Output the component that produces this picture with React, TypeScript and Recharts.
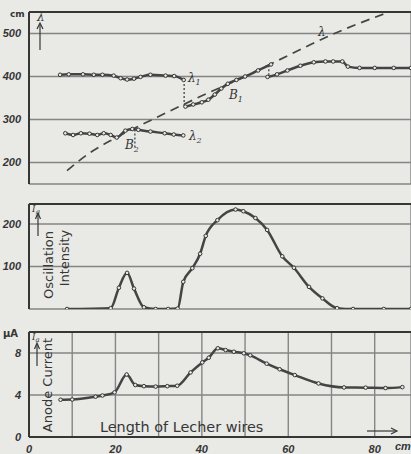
import React from "react";
import { CartesianGrid, Line, LineChart, ReferenceLine, XAxis, YAxis } from "recharts";

type Pt = { x: number; y: number };

// wavelength panel (cm)
const lambda1Upper: Pt[] = [
  { x: 7.2, y: 404 }, { x: 9.2, y: 405 }, { x: 12.5, y: 405 }, { x: 15, y: 404 },
  { x: 17, y: 404 }, { x: 19.6, y: 402 }, { x: 21.2, y: 396 }, { x: 22.7, y: 393 },
  { x: 24.3, y: 395 }, { x: 25.8, y: 399 }, { x: 28.1, y: 404 }, { x: 31.6, y: 402 },
  { x: 33.6, y: 401 }, { x: 35.8, y: 392 }
];
const lambda1Lower: Pt[] = [
  { x: 36.2, y: 330 }, { x: 38, y: 335 }, { x: 40, y: 340 }, { x: 41.5, y: 346 },
  { x: 43, y: 358 }, { x: 44.5, y: 372 }, { x: 46, y: 383 }, { x: 48, y: 392 },
  { x: 50, y: 400 }, { x: 53, y: 414 }, { x: 56, y: 428 }
];
const lambda1Right: Pt[] = [
  { x: 55.2, y: 399 }, { x: 57.4, y: 405 }, { x: 59.8, y: 414 }, { x: 62.8, y: 425 },
  { x: 65.9, y: 433 }, { x: 68.6, y: 435 }, { x: 70.4, y: 435 }, { x: 72.5, y: 435 },
  { x: 73.8, y: 423 }, { x: 76.5, y: 420 }, { x: 80, y: 420 }, { x: 84.4, y: 420 },
  { x: 88.4, y: 420 }
];
const lambda2: Pt[] = [
  { x: 8.4, y: 268 }, { x: 10.2, y: 264 }, { x: 12, y: 268 }, { x: 14, y: 267 },
  { x: 15.8, y: 264 }, { x: 17.3, y: 268 }, { x: 18.9, y: 264 }, { x: 20.3, y: 258 },
  { x: 22.3, y: 274 }, { x: 23.9, y: 278 }, { x: 25.3, y: 276 }, { x: 28.1, y: 272 },
  { x: 31.4, y: 268 }, { x: 33.5, y: 265 }, { x: 35.7, y: 263 }
];
const lambdaWire: Pt[] = [
  { x: 8.8, y: 181 }, { x: 14, y: 222 }, { x: 20, y: 257 }, { x: 30, y: 307 },
  { x: 40, y: 355 }, { x: 50, y: 400 }, { x: 60, y: 449 }, { x: 70, y: 497 },
  { x: 82, y: 545 }
];
const dropA: Pt[] = [{ x: 35.9, y: 392 }, { x: 35.9, y: 331 }];
const dropB2: Pt[] = [{ x: 24.5, y: 277 }, { x: 24.5, y: 232 }];
const dropC: Pt[] = [{ x: 55.5, y: 426 }, { x: 55.5, y: 401 }];

// oscillation intensity
const oscillation: Pt[] = [
  { x: 8.8, y: 0 }, { x: 18.9, y: 2 }, { x: 20.8, y: 50 }, { x: 22.7, y: 85 },
  { x: 24.3, y: 48 }, { x: 26.6, y: 4 }, { x: 29.3, y: 0 }, { x: 32.2, y: 0 },
  { x: 34.4, y: 1 }, { x: 35.7, y: 64 }, { x: 37.8, y: 96 }, { x: 39.6, y: 130 },
  { x: 40.9, y: 172 }, { x: 43.6, y: 209 }, { x: 47.8, y: 234 }, { x: 49.6, y: 230 },
  { x: 52.4, y: 214 }, { x: 55.1, y: 186 }, { x: 58.6, y: 124 }, { x: 61.3, y: 97 },
  { x: 64.8, y: 52 }, { x: 67.9, y: 25 }, { x: 71.3, y: 2 }, { x: 75, y: 0 },
  { x: 82.1, y: 0 }, { x: 88.4, y: 0 }
];

// anode current (µA)
const anode: Pt[] = [
  { x: 7.3, y: 3.55 }, { x: 10, y: 3.57 }, { x: 15.4, y: 3.84 }, { x: 17, y: 3.95 },
  { x: 19.8, y: 4.25 }, { x: 22.6, y: 5.95 }, { x: 24.6, y: 4.95 }, { x: 26.6, y: 4.84 },
  { x: 29.3, y: 4.8 }, { x: 32, y: 4.84 }, { x: 34.3, y: 4.88 }, { x: 37.4, y: 6.15 },
  { x: 40.1, y: 7.1 }, { x: 41.6, y: 7.55 }, { x: 43.7, y: 8.45 }, { x: 45.5, y: 8.28 },
  { x: 47.4, y: 8.12 }, { x: 49.7, y: 7.97 }, { x: 51.2, y: 7.78 }, { x: 55, y: 6.98 },
  { x: 58, y: 6.45 }, { x: 61.5, y: 5.9 }, { x: 67, y: 5.1 }, { x: 72.9, y: 4.72 },
  { x: 77.9, y: 4.7 }, { x: 82.5, y: 4.66 }, { x: 86.4, y: 4.75 }
];

const xTicks = [0, 10, 20, 30, 40, 50, 60, 70, 80];
const lambdaTicks = [200, 300, 400, 500];
const oscTicks = [0, 100, 200];
const anodeTicks = [0, 4, 8];

const BG = "#e9e9e6";
const INK = "#363636";
const GRID = "#858585";
const X_DOMAIN: [number, number] = [0, 88.4];

const tickStyle = {
  fontSize: 11, fontStyle: "italic", fontWeight: "bold", fontFamily: "Liberation Sans", fill: INK
};
const dot = { r: 1.8, fill: BG, stroke: INK, strokeWidth: 1 };

function Curve({ data }: { data: Pt[] }) {
  return (
    <Line
      data={data}
      dataKey="y"
      type="monotone"
      stroke="#444"
      strokeWidth={2.5}
      dot={dot}
      isAnimationActive={false}
    />
  );
}

function Dotted({ data }: { data: Pt[] }) {
  return (
    <Line data={data} dataKey="y" type="linear" stroke={INK} strokeWidth={1.2}
      strokeDasharray="2 2" dot={false} isAnimationActive={false} />
  );
}

function Panel({
  top, height, bottom, domain, ticks, showX, children
}: {
  top: number; height: number; bottom: number; domain: [number, number];
  ticks: number[]; showX?: boolean; children: React.ReactNode;
}) {
  return (
    <div style={{ position: "absolute", left: 0, top }}>
      <LineChart width={411} height={height} margin={{ top: 12, right: 0, bottom, left: 0 }}>
        <CartesianGrid stroke={GRID} strokeWidth={1.4} />
        <XAxis
          dataKey="x"
          type="number"
          domain={X_DOMAIN}
          ticks={xTicks}
          allowDataOverflow
          height={showX ? 17 : 0}
          tick={showX ? tickStyle : false}
          tickFormatter={(v) => (v % 20 === 0 ? String(v) : "")}
          tickLine={false}
          axisLine={{ stroke: INK, strokeWidth: 2 }}
        />
        <YAxis
          type="number"
          domain={domain}
          ticks={ticks}
          width={29}
          allowDataOverflow
          tick={tickStyle}
          tickLine={false}
          axisLine={{ stroke: INK, strokeWidth: 2 }}
        />
        <ReferenceLine y={domain[1]} stroke={INK} strokeWidth={2} />
        {children}
      </LineChart>
    </div>
  );
}

export default function App() {
  const label = { fontFamily: "DejaVu Sans", fontSize: 13, fill: INK };
  const greek = { fontFamily: "DejaVu Serif", fontStyle: "italic", fontSize: 12, fill: INK };
  return (
    <div style={{ position: "absolute", left: 0, top: 0, width: 411, height: 454, background: BG, overflow: "hidden" }}>
      <Panel top={0} height={190} bottom={6} domain={[150, 550]} ticks={lambdaTicks}>
        <Line data={lambdaWire} dataKey="y" type="monotone" stroke="#444" strokeWidth={1.7}
          strokeDasharray="9 6" dot={false} isAnimationActive={false} />
        <Dotted data={dropA} />
        <Dotted data={dropB2} />
        <Dotted data={dropC} />
        <Curve data={lambda1Upper} />
        <Curve data={lambda1Lower} />
        <Curve data={lambda1Right} />
        <Curve data={lambda2} />
      </Panel>
      <Panel top={192} height={120} bottom={3} domain={[0, 247]} ticks={oscTicks}>
        <Curve data={oscillation} />
      </Panel>
      <Panel top={320} height={134} bottom={0} domain={[0, 10]} ticks={anodeTicks} showX>
        <Curve data={anode} />
      </Panel>
      <svg width={411} height={454} style={{ position: "absolute", left: 0, top: 0, pointerEvents: "none" }}>
        <text x={10} y={17} style={{ ...label, fontSize: 9, fontWeight: "bold" }}>cm</text>
        <text x={37} y={21} style={{ ...greek, fontSize: 12 }}>λ</text>
        <line x1={40} y1={24} x2={40} y2={50} stroke={INK} strokeWidth={1.2} />
        <path d="M37,29 L40,23 L43,29" fill="none" stroke={INK} strokeWidth={1.2} />

        <text x={188} y={82} style={greek}>λ<tspan fontSize={8} dy={3}>1</tspan></text>
        <text x={229} y={99} style={greek}>B<tspan fontSize={8} dy={3}>1</tspan></text>
        <text x={189} y={140} style={greek}>λ<tspan fontSize={8} dy={3}>2</tspan></text>
        <text x={125} y={149} style={greek}>B<tspan fontSize={8} dy={3}>2</tspan></text>
        <text x={318} y={36} style={greek}>λ</text>

        <text x={32} y={212} style={{ ...greek, fontSize: 9 }}>I<tspan fontSize={7} dy={2}>g</tspan></text>
        <line x1={38} y1={214} x2={38} y2={236} stroke={INK} strokeWidth={1.2} />
        <path d="M35.5,219 L38,213 L40.5,219" fill="none" stroke={INK} strokeWidth={1.2} />
        <text transform="translate(53,265) rotate(-90)" textAnchor="middle" style={label}>Oscillation</text>
        <text transform="translate(69,258) rotate(-90)" textAnchor="middle" style={label}>Intensity</text>

        <text x={3} y={337} style={{ ...label, fontSize: 10, fontWeight: "bold" }}>µA</text>
        <text x={32} y={340} style={{ ...greek, fontSize: 9 }}>I<tspan fontSize={7} dy={2}>a</tspan></text>
        <line x1={37} y1={344} x2={37} y2={366} stroke={INK} strokeWidth={1.2} />
        <path d="M34.5,349 L37,343 L39.5,349" fill="none" stroke={INK} strokeWidth={1.2} />
        <text transform="translate(52,385) rotate(-90)" textAnchor="middle" style={label}>Anode Current</text>
        <text x={100} y={432} style={{ ...label, fontSize: 14.4 }}>Length of Lecher wires</text>
        <line x1={367} y1={431} x2={396} y2={431} stroke={INK} strokeWidth={1.2} />
        <path d="M391,428 L397,431 L391,434" fill="none" stroke={INK} strokeWidth={1.2} />
        <text x={395} y={450} style={tickStyle}>cm</text>
      </svg>
    </div>
  );
}
